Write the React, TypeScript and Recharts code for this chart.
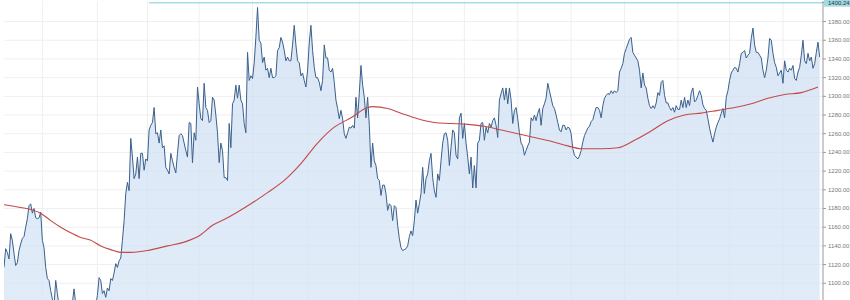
import React from 'react';
import { ComposedChart, Area, Line, XAxis, YAxis, CartesianGrid, ReferenceLine } from 'recharts';

// daily closes, one value per day
const prices = [
  1117, 1137, 1133, 1126, 1153, 1146, 1132, 1119, 1122, 1135, 1142, 1148, 1150, 1160, 1169, 1183, 1185, 1175, 1180, 1170,
  1169, 1170, 1176, 1146, 1138, 1117, 1105, 1103, 1092, 1083, 1076, 1103, 1089, 1076, 1071, 1068, 1073, 1066, 1064, 1068,
  1071, 1079, 1094, 1078, 1071, 1066, 1068, 1064, 1073, 1079, 1082, 1075, 1068, 1065, 1067, 1076, 1087, 1106, 1103, 1089,
  1092, 1085, 1095, 1092, 1105, 1103, 1111, 1121, 1117, 1124, 1127, 1146, 1167, 1196, 1208, 1199, 1255, 1235, 1212, 1217,
  1235, 1212, 1239, 1239, 1221, 1233, 1231, 1264, 1269, 1272, 1288, 1260, 1261, 1250, 1264, 1245, 1247, 1224, 1221, 1217,
  1239, 1231, 1224, 1218, 1239, 1258, 1260, 1258, 1250, 1242, 1235, 1272, 1271, 1229, 1261, 1253, 1310, 1292, 1276, 1274,
  1314, 1288, 1285, 1272, 1274, 1299, 1296, 1280, 1261, 1229, 1250, 1242, 1213, 1213, 1210, 1271, 1245, 1292, 1296, 1312,
  1298, 1312, 1296, 1292, 1271, 1261, 1347, 1317, 1322, 1319, 1336, 1363, 1395, 1360, 1357, 1336, 1342, 1328, 1330, 1320,
  1330, 1320, 1320, 1322, 1349, 1352, 1363, 1358, 1349, 1338, 1342, 1338, 1338, 1355, 1376, 1355, 1338, 1336, 1322, 1325,
  1317, 1310, 1328, 1357, 1376, 1349, 1331, 1320, 1320, 1315, 1306, 1317, 1355, 1341, 1341, 1328, 1326, 1330, 1315, 1296,
  1287, 1276, 1285, 1276, 1260, 1255, 1261, 1267, 1266, 1269, 1266, 1299, 1277, 1303, 1333, 1312, 1299, 1277, 1299, 1269,
  1224, 1250, 1231, 1226, 1212, 1210, 1194, 1205, 1205, 1196, 1178, 1185, 1183, 1167, 1183, 1181, 1162, 1148, 1138, 1135,
  1136, 1137, 1140, 1150, 1156, 1151, 1167, 1189, 1175, 1185, 1196, 1224, 1196, 1212, 1217, 1231, 1239, 1213, 1199, 1192,
  1217, 1210, 1231, 1250, 1260, 1261, 1253, 1226, 1245, 1264, 1261, 1237, 1233, 1277, 1282, 1255, 1271, 1250, 1235, 1217,
  1235, 1202, 1226, 1202, 1250, 1253, 1271, 1272, 1253, 1267, 1261, 1271, 1267, 1274, 1277, 1269, 1256, 1296, 1303, 1309,
  1296, 1309, 1292, 1309, 1296, 1271, 1285, 1288, 1276, 1261, 1250, 1247, 1237, 1242, 1247, 1251, 1277, 1274, 1280, 1274,
  1282, 1287, 1269, 1287, 1292, 1298, 1314, 1306, 1298, 1290, 1287, 1280, 1272, 1264, 1262, 1269, 1269, 1264, 1267, 1266,
  1260, 1244, 1237, 1235, 1233, 1236, 1242, 1251, 1258, 1262, 1266, 1268, 1273, 1275, 1282, 1288, 1288, 1285, 1277, 1290,
  1298, 1301, 1303, 1302, 1306, 1303, 1306, 1304, 1306, 1326, 1330, 1335, 1346, 1351, 1356, 1361, 1363, 1347, 1344, 1341,
  1338, 1328, 1309, 1325, 1312, 1309, 1298, 1290, 1287, 1290, 1287, 1293, 1304, 1301, 1315, 1317, 1301, 1293, 1293, 1288,
  1285, 1288, 1283, 1290, 1286, 1286, 1296, 1288, 1299, 1288, 1296, 1290, 1304, 1309, 1294, 1296, 1301, 1306, 1301, 1291,
  1287, 1285, 1276, 1266, 1258, 1251, 1260, 1267, 1272, 1276, 1282, 1287, 1277, 1299, 1306, 1317, 1325, 1328, 1331, 1330,
  1326, 1335, 1346, 1347, 1349, 1341, 1344, 1346, 1362, 1373, 1355, 1347, 1347, 1344, 1341, 1328, 1320, 1328, 1341, 1362,
  1360, 1346, 1336, 1331, 1322, 1325, 1328, 1314, 1338, 1328, 1326, 1330, 1328, 1333, 1319, 1317, 1326, 1331, 1344, 1360,
  1338, 1335, 1346, 1338, 1342, 1330, 1335, 1347, 1358, 1342,
];

// moving average, read at these days
const maDays = [
  0, 10, 16, 22, 28, 34, 40, 46, 52, 58, 64, 70, 76, 82, 86, 98, 108, 118, 125, 134,
  148, 158, 168, 178, 188, 198, 208, 218, 221, 230, 238, 248, 258, 268, 278, 288, 298, 308, 318, 328,
  338, 346, 358, 368, 378, 388, 398, 408, 418, 428, 438, 448, 458, 468, 478, 488,
];
const maValues = [
  1184, 1181, 1179, 1175, 1167, 1160, 1154, 1149, 1146, 1140, 1136, 1133, 1133, 1134, 1135, 1140, 1144, 1152, 1162, 1170,
  1185, 1197, 1210, 1228, 1250, 1267, 1277, 1288, 1289, 1287, 1282, 1276, 1272, 1271, 1270, 1268, 1264, 1260, 1256, 1252,
  1247, 1244, 1244, 1245, 1253, 1263, 1274, 1280, 1282, 1285, 1288, 1292, 1298, 1302, 1304, 1310,
];

const monthStarts = [23, 56, 86, 117, 149, 182, 213, 245, 276, 308, 340, 372, 404, 435, 467];
const yTicks = [1060, 1080, 1100, 1120, 1140, 1160, 1180, 1200, 1220, 1240, 1260, 1280, 1300, 1320, 1340, 1360, 1380];
const highValue = 1400.24;
const highFromDay = 87;

const data = prices.map((price, day) => {
  const k = maDays.indexOf(day);
  return { day, price, ma: k >= 0 ? maValues[k] : null };
});

const AxisTick = (props: any) => {
  const { x, y, payload } = props;
  const v = payload.value as number;
  if (v === highValue) {
    return (
      <g>
        <rect x={x - 4} y={y - 4} width={30} height={8} fill="#9fdbe5" />
        <text x={x} y={y} dy={2} fontSize={6} fill="#333" fontFamily="Liberation Sans, Arial, sans-serif">
          {v.toFixed(2)}
        </text>
      </g>
    );
  }
  return (
    <text x={x} y={y} dy={2} fontSize={6} fill="#777" fontFamily="Liberation Sans, Arial, sans-serif">
      {v.toFixed(2)}
    </text>
  );
};

export default function App() {
  return (
    <div style={{ position: 'absolute', left: 0, top: 0, width: 850, height: 300, overflow: 'hidden', background: '#fff' }}>
      <ComposedChart width={850} height={330} data={data} margin={{ top: 1, right: 0, left: 4, bottom: 0 }}>
        <defs>
          <linearGradient id="priceFill" x1="0" y1="0" x2="0" y2="1">
            <stop offset="0%" stopColor="#cbdcf1" stopOpacity={0.7} />
            <stop offset="100%" stopColor="#d4e4f6" stopOpacity={0.7} />
          </linearGradient>
        </defs>
        <CartesianGrid stroke="#efefef" horizontalValues={yTicks} verticalValues={monthStarts} />
        <XAxis dataKey="day" type="number" domain={[0, 491]} hide allowDataOverflow />
        <YAxis
          orientation="right"
          domain={[1050, 1402]}
          ticks={[...yTicks, highValue]}
          interval={0}
          width={27}
          tickSize={3}
          axisLine={{ stroke: '#999' }}
          tickLine={{ stroke: '#999' }}
          tick={<AxisTick />}
          allowDataOverflow
        />
        <Line
          dataKey="ma"
          type="monotone"
          stroke="#c4484a"
          strokeWidth={1.1}
          dot={false}
          connectNulls
          isAnimationActive={false}
        />
        <Area
          dataKey="price"
          type="linear"
          stroke="#3a608c"
          strokeWidth={1}
          fill="url(#priceFill)"
          fillOpacity={1}
          isAnimationActive={false}
        />
        <ReferenceLine
          segment={[{ x: highFromDay, y: highValue }, { x: 491, y: highValue }]}
          stroke="#a6dde6"
          strokeWidth={1.5}
        />
      </ComposedChart>
    </div>
  );
}
